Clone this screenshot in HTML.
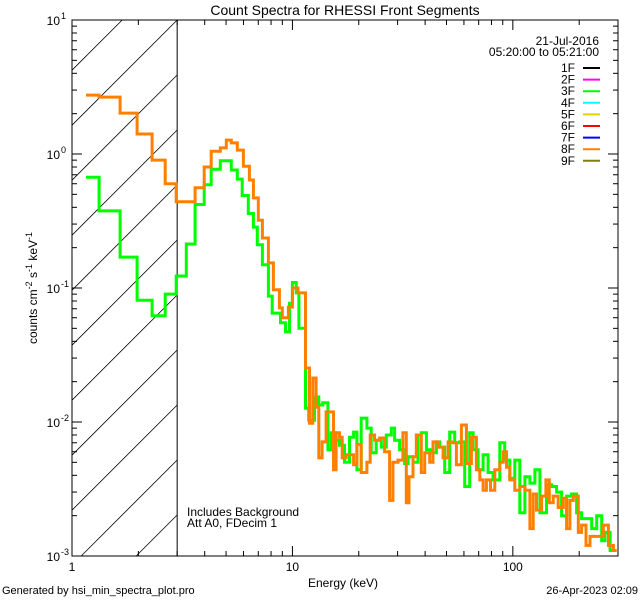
<!DOCTYPE html>
<html><head><meta charset="utf-8">
<style>
html,body{margin:0;padding:0;background:#fff;width:640px;height:600px;overflow:hidden;}
svg{display:block;font-family:"Liberation Sans",sans-serif;overflow:hidden;}
</style></head>
<body>
<svg id="chart" width="640" height="600" viewBox="0 0 640 600" xmlns="http://www.w3.org/2000/svg">
<rect width="640" height="600" fill="#fff"/>
<g id="hatch"></g>
<g id="series"></g>
<g id="axes"></g>
<text x="345" y="15" text-anchor="middle" font-size="14">Count Spectra for RHESSI Front Segments</text>
<text x="343" y="587" text-anchor="middle" font-size="12">Energy (keV)</text>
<text transform="translate(37,288) rotate(-90)" text-anchor="middle" font-size="12">counts cm<tspan dy="-5" font-size="9">-2</tspan><tspan dy="5"> s</tspan><tspan dy="-5" font-size="9">-1</tspan><tspan dy="5"> keV</tspan><tspan dy="-5" font-size="9">-1</tspan></text>
<text x="2" y="594" font-size="11">Generated by hsi_min_spectra_plot.pro</text>
<text x="638" y="594" text-anchor="end" font-size="11">26-Apr-2023 02:09</text>
<text x="187" y="516" font-size="12">Includes Background</text>
<text x="187" y="527" font-size="12">Att A0, FDecim 1</text>
<text x="599" y="45" text-anchor="end" font-size="12">21-Jul-2016</text>
<text x="599" y="56" text-anchor="end" font-size="12">05:20:00 to 05:21:00</text>
<g id="legend"></g>
</svg>
<script>
const xDomain = [1, 300];
const yDomain = [0.001, 10];
const xTickLabels = ["1", "10", "100"];
const xTickValues = [1, 10, 100];
const yTickExps = [-3, -2, -1, 0, 1];
const legendLabels = ["1F","2F","3F","4F","5F","6F","7F","8F","9F"];
const legendColors = ["#000000","#ff00ff","#00ff00","#00ffff","#e0d000","#ff0000","#0000ff","#ff8000","#808000"];

const greenEdges = [1.158,1.327,1.652,1.975,2.31,2.647,2.97,3.3,3.62,3.98,4.28,4.71,5.28,5.62,5.92,6.31,6.65,6.93,7.31,7.78,8.1,8.83,9.3,9.7,10,10.4,10.7,
11.46,11.86,12.59,13.17,13.74,14.48,14.99,15.79,16.35,17.23,18.16,18.94,19.61,20.52,21.77,22.78,24.0,25.3,26.66,28.08,29.08,30.64,32.29,33.44,35.24,37.13,38.45,40.52,42.69,44.98,46.58,49.1,51.72,54.5,57.43,60.5,63.75,66.04,69.57,73.3,77.25,81.4,87.3,91.9,96.9,102.1,107.6,113.4,119.5,125.9,132.7,142.2,149.9,157.9,166.4,175.4,184.8,194.7,205.2,216.2,227.9,240.1,252.9,261.9,276.1,285.8];
const greenValues = [0.67,0.376,0.17,0.081,0.062,0.090,0.123,0.213,0.42,0.59,0.77,0.89,0.76,0.65,0.49,0.36,0.285,0.21,0.149,0.087,0.065,0.055,0.047,0.077,0.11,0.092,0.05,
0.0127,0.0103,0.0154,0.0134,0.0139,0.0062,0.0083,0.0073,0.0067,0.0050,0.0077,0.0084,0.0044,0.0107,0.0090,0.0059,0.0073,0.0065,0.0080,0.0090,0.0073,0.0062,0.0049,0.0055,0.0050,0.0080,0.0083,0.0062,0.0059,0.0071,0.0065,0.0042,0.0084,0.0070,0.0071,0.0033,0.0083,0.0062,0.0044,0.0057,0.0042,0.0037,0.0070,0.0052,0.0038,0.0052,0.0021,0.0039,0.0035,0.0044,0.0021,0.0034,0.0033,0.0030,0.0020,0.0028,0.0029,0.0021,0.0019,0.0019,0.0016,0.0020,0.0013,0.0015,0.0011];

const orangeEdges = [1.158,1.327,1.652,1.975,2.31,2.647,2.97,3.62,3.98,4.28,4.71,5.01,5.28,5.62,5.99,6.38,6.65,7.0,7.31,7.78,8.2,8.73,9.0,9.59,10,10.6,
11.46,11.95,12.37,12.81,13.17,13.64,14.22,14.73,15.36,15.79,16.35,16.82,17.54,18.16,18.94,19.61,20.52,21.77,22.54,23.59,24.86,26.2,27.6,28.58,30.12,31.73,32.86,33.8,35.24,36.49,38.45,39.81,41.95,43.44,45.78,48.24,50.83,52.63,55.46,58.45,61.56,64.88,68.37,70.79,73.3,75.9,79.15,82.8,87.3,90.4,93.6,96.9,102.1,107.6,113.4,119.5,123.7,128.1,135,141.3,146.3,152.5,160.7,169.4,175.4,181.6,188.1,198.2,205.2,214.7,223.9,236,246.9,257.4,271.3,285.8,296];
const orangeValues = [2.75,2.66,2.02,1.41,0.90,0.60,0.44,0.56,0.80,1.05,1.11,1.27,1.21,1.07,0.81,0.64,0.47,0.32,0.236,0.154,0.097,0.071,0.060,0.072,0.10,0.092,
0.0253,0.0098,0.0213,0.0129,0.0054,0.0071,0.0119,0.0119,0.0044,0.0083,0.0077,0.0054,0.0057,0.0057,0.0048,0.0068,0.0042,0.0050,0.0080,0.0073,0.0076,0.0060,0.0026,0.0050,0.0052,0.0083,0.0025,0.0039,0.0055,0.0080,0.0042,0.0059,0.0050,0.0071,0.0065,0.0054,0.0071,0.0070,0.0048,0.0095,0.0049,0.0077,0.0044,0.0037,0.0031,0.0037,0.0031,0.0044,0.0050,0.0060,0.0046,0.0037,0.0031,0.0033,0.0031,0.0016,0.0029,0.0022,0.0028,0.0037,0.0025,0.0028,0.0023,0.0027,0.0016,0.0026,0.0028,0.0015,0.0017,0.0012,0.0014,0.0014,0.0014,0.0017,0.0012,0.0011];

const hatchLimit = 3;

const L=72,R=618,T=20,B=556;
const NS="http://www.w3.org/2000/svg";
function xs(v){return L+(Math.log10(v)-Math.log10(xDomain[0]))/(Math.log10(xDomain[1])-Math.log10(xDomain[0]))*(R-L);}
function ys(v){return B-(Math.log10(v)-Math.log10(yDomain[0]))/(Math.log10(yDomain[1])-Math.log10(yDomain[0]))*(B-T);}
function mk(tag,attrs,parent){const e=document.createElementNS(NS,tag);for(const k in attrs)e.setAttribute(k,attrs[k]);parent.appendChild(e);return e;}

const hg=document.getElementById('hatch');
const hx=xs(hatchLimit);
const defs=mk('defs',{},hg);
const w=hx-L;
for(let k=-3;k<11;k++){
  const y0=T+k*55;
  let xa=L, ya=y0+w, xb=hx, yb=y0;
  if(ya>B){xa=L+(ya-B);ya=B;}
  if(yb<T){xb=L+(y0+w-T);yb=T;}
  if(xa>=xb)continue;
  const ln=mk('line',{x1:xa.toFixed(1),y1:ya.toFixed(1),x2:xb.toFixed(1),y2:yb.toFixed(1),stroke:'#000','stroke-width':0.8},hg);
  
  
}
const hb=mk('line',{x1:hx,y1:T,x2:hx,y2:B,stroke:'#000','stroke-width':1},hg);



const sg=document.getElementById('series');
const sclip=mk('clipPath',{id:'pclip'},defs);
mk('rect',{x:L,y:T,width:R-L,height:B-T},sclip);
function stepPath(edges,vals){
  let d='';
  for(let i=0;i<vals.length;i++){
    const x0=xs(edges[i]),x1=xs(Math.min(edges[i+1],xDomain[1])),y=ys(Math.max(vals[i],yDomain[0]));
    d+=(i===0?'M':'L')+x0.toFixed(1)+','+y.toFixed(1)+' L'+x1.toFixed(1)+','+y.toFixed(1)+' ';
  }
  return d;
}
const gp=mk('path',{d:stepPath(greenEdges,greenValues),fill:'none',stroke:'#00ff00','stroke-width':3,'clip-path':'url(#pclip)'},sg);


const op=mk('path',{d:stepPath(orangeEdges,orangeValues),fill:'none',stroke:'#ff8000','stroke-width':3,'clip-path':'url(#pclip)'},sg);



const ag=document.getElementById('axes');
const frame=mk('rect',{x:L,y:T,width:R-L,height:B-T,fill:'none',stroke:'#000','stroke-width':1},ag);


for(let d=0;d<3;d++){
  for(let m=1;m<10;m++){
    const v=Math.pow(10,d)*m; if(v>xDomain[1])break;
    const x=xs(v); const len=m===1?10:5;
    mk('line',{x1:x,y1:B,x2:x,y2:B-len,stroke:'#000'},ag);
    mk('line',{x1:x,y1:T,x2:x,y2:T+len,stroke:'#000'},ag);
  }
}
xTickValues.forEach((v,i)=>{
  const t=mk('text',{x:xs(v),y:B+15,'text-anchor':'middle','font-size':12},ag);
  t.textContent=xTickLabels[i];
  
  
});
yTickExps.forEach(e=>{
  const y1=ys(Math.pow(10,e));
  mk('line',{x1:L,y1:y1,x2:L+10,y2:y1,stroke:'#000'},ag);
  mk('line',{x1:R,y1:y1,x2:R-10,y2:y1,stroke:'#000'},ag);
  if(e<1){for(let m=2;m<10;m++){const y=ys(Math.pow(10,e)*m);mk('line',{x1:L,y1:y,x2:L+5,y2:y,stroke:'#000'},ag);mk('line',{x1:R,y1:y,x2:R-5,y2:y,stroke:'#000'},ag);}}
  const t=mk('text',{x:L-12,y:y1+5,'text-anchor':'end','font-size':12},ag);
  t.textContent='10';
  
  
  const s=mk('text',{x:L-11,y:y1-1,'font-size':9},ag);
  s.textContent=String(e);
  
  
});

const lg=document.getElementById('legend');
legendLabels.forEach((lab,i)=>{
  const y=68+i*11.6;
  const t=mk('text',{x:575,y:y+4,'text-anchor':'end','font-size':12},lg);
  t.textContent=lab;
  
  
  const l=mk('line',{x1:583,y1:y,x2:600,y2:y,stroke:legendColors[i],'stroke-width':2},lg);
  
  
});
</script>
</body></html>
